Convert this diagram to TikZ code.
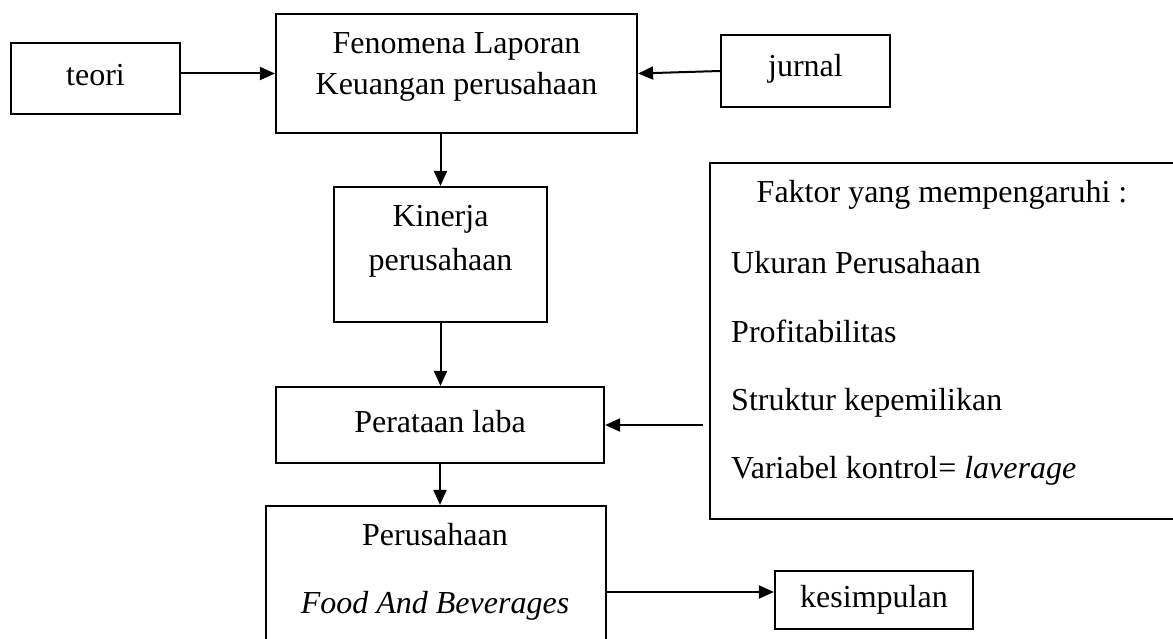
\documentclass[tikz,border=0pt]{standalone}
\usepackage{fontspec}
\setmainfont{Liberation Serif}
\usetikzlibrary{arrows.meta}

\begin{document}
\begin{tikzpicture}[x=1pt,y=-1pt,
    font=\fontsize{32}{40}\selectfont,
    box/.style={draw, line width=2.2pt, inner sep=0pt, text height=22pt, text depth=7pt},
    word/.style={anchor=base, inner sep=0pt},
    flow/.style={-{Triangle[length=15pt,width=13pt]}, line width=2pt}]

    \useasboundingbox (0,0) rectangle (1173,639);

    \node[box, minimum width=169, minimum height=71] (teori) at (95.5,78.5) {teori};
    \node[box, minimum width=361, minimum height=119] (fenomena) at (456.5,73.5) {};
    \node[box, minimum width=169, minimum height=72] (jurnal) at (805.5,71) {};
    \node[box, minimum width=213, minimum height=135] (kinerja) at (440.5,254.5) {};
    \node[box, minimum width=475, minimum height=356] (faktor) at (947.5,341) {};
    \node[box, minimum width=328, minimum height=76] (perataan) at (440,425) {Perataan laba};
    \node[box, minimum width=340, minimum height=144] (perusahaan) at (436,578) {};
    \node[box, minimum width=198, minimum height=58] (kesimpulan) at (874,600) {kesimpulan};

    \node[word] (jurnal-1) at (805.5,77) {jurnal};
    \node[word] (fenomena-1) at (456.5,54) {Fenomena Laporan};
    \node[word] (fenomena-2) at (456.5,95) {Keuangan perusahaan};
    \node[word] (kinerja-1) at (440.5,227) {Kinerja};
    \node[word] (kinerja-2) at (440.5,271) {perusahaan};
    \node[word] (faktor-0) at (942,203) {Faktor yang mempengaruhi :};
    \foreach \t/\y [count=\i] in {Ukuran Perusahaan/273, Profitabilitas/342,
        Struktur kepemilikan/410, {Variabel kontrol= \textit{laverage}}/478}
        \node[word, anchor=base west] (faktor-\i) at (731,\y) {\t};
    \node[word] (perusahaan-1) at (435,545) {Perusahaan};
    \node[word] (perusahaan-2) at (435,613) {\textit{Food And Beverages}};

    \draw[flow] (teori.east |- fenomena.west) -- (fenomena.west);
    \draw[flow] (jurnal.west) -- (fenomena.east);
    \draw[flow] (fenomena.south -| kinerja.north) -- (kinerja.north);
    \draw[flow] (kinerja.south) -- (kinerja.south |- perataan.north);
    \draw[flow, shorten <=6pt] (faktor.west |- perataan.east) -- (perataan.east);
    \draw[flow] (perataan.south) -- (perataan.south |- perusahaan.north);
    %
    \coordinate (kesimpulan-in) at ([yshift=8pt]kesimpulan.west);
    \draw[flow] (kesimpulan-in -| perusahaan.east) -- (kesimpulan-in);
\end{tikzpicture}
\end{document}
